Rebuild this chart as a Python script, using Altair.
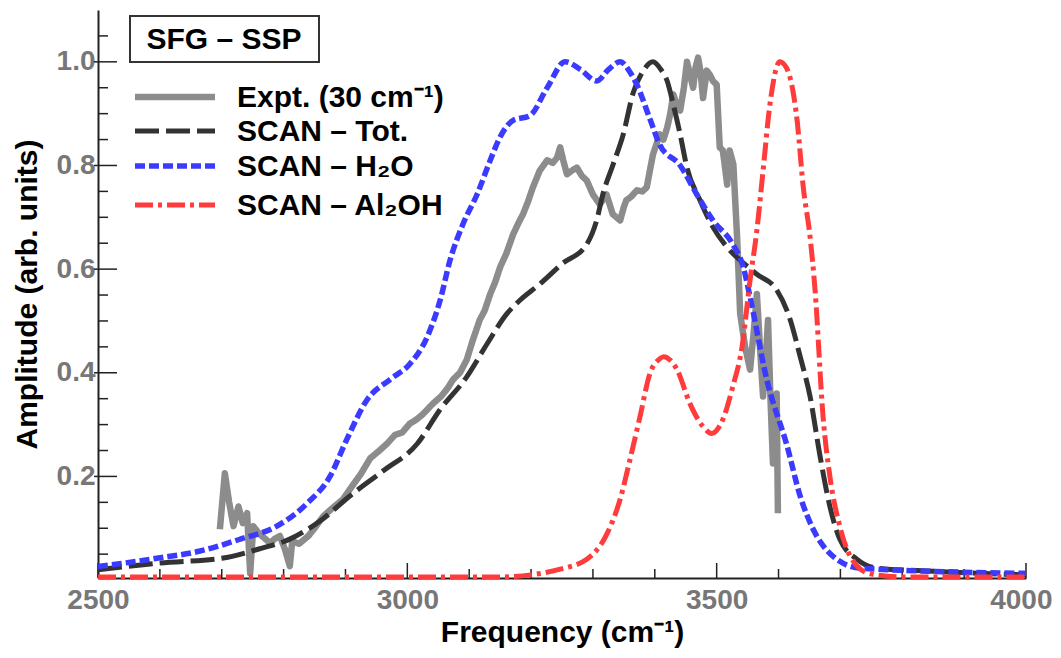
import altair as alt
import pandas as pd

# ---------------- data ----------------
expt_x = [2697, 2705, 2712, 2719, 2727, 2734, 2741, 2746, 2751, 2760, 2770, 2778, 2786, 2794,
          2802, 2810, 2814, 2825, 2840, 2850, 2864, 2880, 2896, 2910, 2925, 2940, 2955, 2967,
          2980, 2992, 3004, 3015, 3025, 3041, 3055, 3065, 3074, 3085, 3096, 3105, 3117, 3125,
          3134, 3142, 3150, 3160, 3171, 3180, 3187, 3195, 3203, 3214, 3226, 3235, 3242, 3247,
          3252, 3258, 3266, 3274, 3282, 3290, 3300, 3311, 3317, 3322, 3332, 3338, 3344, 3350,
          3354, 3362, 3371, 3380, 3387, 3392, 3397, 3408, 3414, 3420, 3425, 3430, 3436, 3441,
          3447, 3452, 3457, 3462, 3466, 3470, 3474, 3478, 3484, 3489, 3494, 3500, 3505, 3510,
          3517, 3521, 3527, 3533, 3538, 3546, 3554, 3560, 3565, 3570, 3575, 3579, 3583, 3587,
          3591, 3594, 3597, 3599]
expt_y = [0.098, 0.206, 0.150, 0.104, 0.142, 0.110, 0.129, 0.013, 0.104, 0.090, 0.080, 0.071, 0.080, 0.085,
          0.060, 0.027, 0.075, 0.070, 0.085, 0.100, 0.123, 0.140, 0.156, 0.180, 0.205, 0.235, 0.250, 0.263,
          0.280, 0.285, 0.302, 0.310, 0.320, 0.340, 0.355, 0.370, 0.387, 0.400, 0.425, 0.460, 0.502, 0.520,
          0.552, 0.575, 0.604, 0.630, 0.667, 0.690, 0.706, 0.730, 0.758, 0.790, 0.810, 0.805, 0.815, 0.835,
          0.810, 0.783, 0.790, 0.796, 0.780, 0.771, 0.744, 0.725, 0.735, 0.744, 0.706, 0.700, 0.694, 0.720,
          0.733, 0.740, 0.752, 0.750, 0.758, 0.790, 0.821, 0.860, 0.850, 0.873, 0.900, 0.937, 0.915, 0.906,
          0.950, 1.000, 0.975, 0.950, 0.990, 1.008, 0.980, 0.930, 0.983, 0.975, 0.963, 0.956, 0.835, 0.829,
          0.763, 0.829, 0.802, 0.662, 0.514, 0.450, 0.406, 0.480, 0.552, 0.450, 0.354, 0.420, 0.502, 0.350,
          0.225, 0.300, 0.360, 0.129]

tot_x = [2500, 2600, 2700, 2760, 2810, 2860, 2910, 2960, 3016, 3053, 3096, 3129, 3161, 3182,
         3214, 3250, 3290, 3306, 3316, 3332, 3349, 3365, 3380, 3397, 3410, 3420, 3430, 3441,
         3452, 3473, 3494, 3517, 3543, 3565, 3597, 3619, 3635, 3651, 3667, 3683, 3699, 3727,
         3759, 3850, 4000]
tot_y = [0.020, 0.033, 0.042, 0.060, 0.079, 0.115, 0.165, 0.210, 0.263, 0.329, 0.392, 0.456, 0.514, 0.540,
         0.571, 0.610, 0.648, 0.694, 0.744, 0.800, 0.860, 0.940, 0.980, 1.000, 0.985, 0.963, 0.917, 0.860,
         0.796, 0.733, 0.681, 0.642, 0.612, 0.590, 0.560, 0.502, 0.431, 0.354, 0.240, 0.142, 0.079, 0.040,
         0.023, 0.017, 0.010]

h2o_x = [2500, 2595, 2665, 2730, 2789, 2838, 2875, 2902, 2935, 2972, 3004, 3032, 3053, 3069,
         3090, 3113, 3134, 3150, 3171, 3198, 3226, 3255, 3280, 3306, 3325, 3344, 3360, 3371,
         3392, 3408, 3441, 3468, 3494, 3526, 3543, 3554, 3581, 3614, 3635, 3656, 3688, 3732, 4000]
h2o_y = [0.026, 0.042, 0.056, 0.079, 0.104, 0.148, 0.200, 0.271, 0.348, 0.387, 0.417, 0.469, 0.540, 0.617,
         0.687, 0.745, 0.810, 0.855, 0.887, 0.896, 0.950, 1.000, 0.985, 0.963, 0.985, 1.000, 0.980, 0.956,
         0.890, 0.840, 0.800, 0.744, 0.694, 0.648, 0.604, 0.546, 0.387, 0.258, 0.162, 0.098, 0.046, 0.023, 0.013]

aloh_x = [2500, 3150, 3200, 3247, 3290, 3323, 3344, 3360, 3376, 3392, 3408, 3414, 3436, 3457,
          3478, 3492, 3510, 3526, 3541, 3554, 3565, 3575, 3586, 3602, 3613, 3630, 3640, 3651,
          3659, 3672, 3683, 3699, 3716, 3748, 3800, 4000]
aloh_y = [0.006, 0.006, 0.010, 0.021, 0.040, 0.090, 0.156, 0.233, 0.315, 0.398, 0.427, 0.431, 0.406, 0.340,
          0.296, 0.283, 0.310, 0.373, 0.450, 0.579, 0.675, 0.790, 0.917, 1.000, 0.988, 0.887, 0.758, 0.662,
          0.560, 0.315, 0.200, 0.104, 0.046, 0.012, 0.006, 0.006]

series_names = ["Expt. (30 cm⁻¹)", "SCAN – Tot.", "SCAN – H₂O", "SCAN – Al₂OH"]
series_colors = ["#8c8c8c", "#333333", "#3b3bff", "#ff3b3b"]
series_dashes = [[1, 0], [24, 7], [10, 4], [18, 5, 4, 5]]
series_widths = [6.5, 5, 5.5, 5]

x_ticks = list(range(2500, 4001, 100))
x_major = [2500, 3000, 3500, 4000]
y_ticks = [0.05, 0.10, 0.15, 0.20, 0.25, 0.30, 0.35, 0.40, 0.45, 0.50, 0.55,
           0.60, 0.65, 0.70, 0.75, 0.80, 0.85, 0.90, 0.95, 1.00, 1.05]
y_major = [0.2, 0.4, 0.6, 0.8, 1.0]
panel_label = "SFG – SSP"

# ---------------- chart ----------------
FONT = "Liberation Sans"
W, H = 928, 568

xscale = alt.Scale(domain=[2500, 4000], nice=False, zero=False)
yscale = alt.Scale(domain=[0.004, 1.1], nice=False, zero=False)

xaxis = alt.Axis(values=x_major, format="d", ticks=False, grid=False, domainColor="#222222",
                 domainWidth=2, labelFont=FONT, labelFontSize=28, labelFontWeight="bold",
                 labelColor="#777777", labelPadding=8, labelFlush=False,
                 labelAlign={"expr": "datum.value == 4000 ? 'right' : 'center'"},
                 labelOffset={"expr": "datum.value == 4000 ? 26 : 0"},
                 titleFont=FONT, titleFontSize=30, titleFontWeight="bold", titleColor="black",
                 titlePadding=3)
yaxis = alt.Axis(values=y_major, format=".1f", ticks=False, grid=False, domainColor="#222222",
                 domainWidth=2, labelFont=FONT, labelFontSize=28, labelFontWeight="bold",
                 labelColor="#777777", labelPadding=3, labelFlush=False,
                 titleFont=FONT, titleFontSize=30, titleFontWeight="bold", titleColor="black",
                 titlePadding=14)

X_TITLE = "Frequency (cm⁻¹)"
Y_TITLE = "Amplitude (arb. units)"


def line_layer(i, xs, ys, interp):
    df = pd.DataFrame({"freq": xs, "amp": ys})
    return alt.Chart(df).mark_line(
        interpolate=interp, strokeWidth=series_widths[i], strokeJoin="round",
        color=series_colors[i], strokeDash=series_dashes[i]).encode(
        x=alt.X("freq:Q", scale=xscale, axis=xaxis, title=X_TITLE),
        y=alt.Y("amp:Q", scale=yscale, axis=yaxis, title=Y_TITLE),
    )


xt_minor = pd.DataFrame({"freq": [v for v in x_ticks if v not in x_major]})
xt_major = pd.DataFrame({"freq": x_major})
yt_minor = pd.DataFrame({"amp": [v for v in y_ticks if round(v, 2) not in y_major]})
yt_major = pd.DataFrame({"amp": y_major})

tick_x_minor = alt.Chart(xt_minor).mark_rule(color="#222222", strokeWidth=1.5).encode(
    x=alt.X("freq:Q", scale=xscale, axis=xaxis, title=X_TITLE),
    y=alt.value(H), y2=alt.value(H - 9))
tick_x_major = alt.Chart(xt_major).mark_rule(color="#222222", strokeWidth=1.5).encode(
    x=alt.X("freq:Q", scale=xscale, axis=xaxis, title=X_TITLE),
    y=alt.value(H), y2=alt.value(H - 15))
tick_y_minor = alt.Chart(yt_minor).mark_rule(color="#222222", strokeWidth=1.5).encode(
    y=alt.Y("amp:Q", scale=yscale, axis=yaxis, title=Y_TITLE),
    x=alt.value(0), x2=alt.value(10))
tick_y_major = alt.Chart(yt_major).mark_rule(color="#222222", strokeWidth=1.5).encode(
    y=alt.Y("amp:Q", scale=yscale, axis=yaxis, title=Y_TITLE),
    x=alt.value(-4), x2=alt.value(19))

# panel label box
box = alt.Chart(pd.DataFrame({"t": [panel_label]})).mark_rect(
    fill="white", stroke="#333333", strokeWidth=2).encode(
    x=alt.value(32), x2=alt.value(221), y=alt.value(6), y2=alt.value(52))
box_text = alt.Chart(pd.DataFrame({"t": [panel_label]})).mark_text(
    font=FONT, fontSize=30, fontWeight="bold", color="black", align="center", baseline="middle").encode(
    x=alt.value(126), y=alt.value(30), text="t:N")

# legend (drawn as annotation)
legend_rows = [87, 121, 156, 195]
legend_layers = []
for i, name in enumerate(series_names):
    lt = pd.DataFrame({"t": [name]})
    legend_layers.append(alt.Chart(lt).mark_rule(
        color=series_colors[i], strokeWidth=series_widths[i], strokeDash=series_dashes[i]).encode(
        x=alt.value(37), x2=alt.value(117), y=alt.value(legend_rows[i])))
    legend_layers.append(alt.Chart(lt).mark_text(
        font=FONT, fontSize=30, fontWeight="bold", color="black", align="left", baseline="middle").encode(
        x=alt.value(139), y=alt.value(legend_rows[i] + 1), text="t:N"))

chart = alt.layer(
    tick_x_minor, tick_x_major, tick_y_minor, tick_y_major,
    line_layer(0, expt_x, expt_y, "linear"),
    line_layer(1, tot_x, tot_y, "monotone"),
    line_layer(2, h2o_x, h2o_y, "monotone"),
    line_layer(3, aloh_x, aloh_y, "monotone"),
    box, box_text, *legend_layers,
).properties(
    width=W, height=H,
    padding={"left": 90, "top": 2, "right": 27, "bottom": 72},
    autosize=alt.AutoSizeParams(type="none"),
).configure_view(stroke=None)

chart.save("out.html", embed_options={"renderer": "svg", "actions": False})
